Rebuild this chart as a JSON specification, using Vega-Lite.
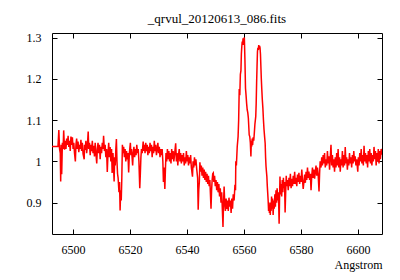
{
  "$schema": "https://vega.github.io/schema/vega-lite/v6.json",
  "autosize": {"type": "none"},
  "padding": {"left": 52, "top": 33, "right": 18, "bottom": 46},
  "width": 330,
  "height": 201,
  "background": "white",
  "title": {"text": "_qrvul_20120613_086.fits", "font": "Liberation Serif, Times New Roman, serif", "fontSize": 13, "fontWeight": "normal", "color": "black", "anchor": "middle", "offset": 6},
  "config": {
    "view": {"stroke": "black", "strokeWidth": 1},
    "axis": {"grid": false, "domain": false, "tickColor": "black", "tickSize": -5, "labelFont": "Liberation Serif, Times New Roman, serif", "labelFontSize": 12, "labelColor": "black", "titleFont": "Liberation Serif, Times New Roman, serif", "titleFontSize": 12, "titleFontWeight": "normal", "titleColor": "black"}
  },
  "data": {"values": [
{"x":6492.6,"y":1.036},{"x":6494.7,"y":1.036},{"x":6495.0,"y":1.076},{"x":6495.25,"y":1.03},{"x":6495.5,"y":1.02},{"x":6495.65,"y":0.951},{"x":6495.8,"y":1.04},{"x":6496.0,"y":0.969},{"x":6496.25,"y":1.045},{"x":6496.5,"y":1.03},{"x":6496.7,"y":1.075},{"x":6497.0,"y":1.028},{"x":6497.25,"y":1.05},{"x":6497.5,"y":1.03},{"x":6497.75,"y":1.055},{"x":6498.0,"y":1.04},{"x":6498.25,"y":1.062},{"x":6498.5,"y":1.035},{"x":6498.75,"y":1.05},{"x":6499.0,"y":1.025},{"x":6499.25,"y":1.06},{"x":6499.5,"y":1.04},{"x":6499.75,"y":1.058},{"x":6500.0,"y":1.03},{"x":6500.25,"y":1.045},{"x":6500.5,"y":1.02},{"x":6500.8,"y":1.0},{"x":6501.0,"y":1.04},{"x":6501.25,"y":1.055},{"x":6501.5,"y":1.03},{"x":6501.75,"y":1.048},{"x":6502.0,"y":1.022},{"x":6502.25,"y":1.04},{"x":6502.5,"y":1.03},{"x":6502.75,"y":1.052},{"x":6503.0,"y":1.025},{"x":6503.25,"y":1.045},{"x":6503.5,"y":1.018},{"x":6503.9,"y":1.005},{"x":6504.0,"y":1.04},{"x":6504.25,"y":1.028},{"x":6504.5,"y":1.05},{"x":6504.75,"y":1.02},{"x":6505.0,"y":1.035},{"x":6505.3,"y":1.072},{"x":6505.5,"y":1.03},{"x":6505.75,"y":1.045},{"x":6506.0,"y":1.015},{"x":6506.25,"y":1.04},{"x":6506.5,"y":1.025},{"x":6506.75,"y":1.05},{"x":6507.0,"y":1.02},{"x":6507.25,"y":1.038},{"x":6507.5,"y":1.012},{"x":6507.75,"y":1.045},{"x":6508.0,"y":1.02},{"x":6508.3,"y":0.995},{"x":6508.5,"y":1.03},{"x":6508.75,"y":1.045},{"x":6509.0,"y":1.02},{"x":6509.25,"y":1.04},{"x":6509.5,"y":1.005},{"x":6509.75,"y":1.035},{"x":6510.0,"y":1.02},{"x":6510.25,"y":1.045},{"x":6510.5,"y":1.03},{"x":6510.7,"y":1.062},{"x":6511.0,"y":1.025},{"x":6511.25,"y":1.04},{"x":6511.5,"y":1.01},{"x":6511.75,"y":1.03},{"x":6512.0,"y":0.974},{"x":6512.25,"y":1.02},{"x":6512.5,"y":1.045},{"x":6512.75,"y":1.01},{"x":6513.0,"y":1.035},{"x":6513.25,"y":1.0},{"x":6513.5,"y":1.03},{"x":6513.7,"y":0.972},{"x":6514.0,"y":1.02},{"x":6514.2,"y":0.985},{"x":6514.4,"y":0.951},{"x":6514.6,"y":1.01},{"x":6514.8,"y":0.99},{"x":6515.0,"y":1.03},{"x":6515.2,"y":1.054},{"x":6515.4,"y":1.0},{"x":6515.6,"y":0.97},{"x":6515.8,"y":0.96},{"x":6516.1,"y":0.925},{"x":6516.3,"y":0.95},{"x":6516.5,"y":0.881},{"x":6516.7,"y":0.93},{"x":6516.9,"y":0.905},{"x":6517.1,"y":0.96},{"x":6517.3,"y":1.04},{"x":6517.5,"y":1.02},{"x":6517.75,"y":1.035},{"x":6518.0,"y":1.01},{"x":6518.25,"y":1.03},{"x":6518.5,"y":1.0},{"x":6518.75,"y":1.025},{"x":6519.0,"y":1.005},{"x":6519.25,"y":1.02},{"x":6519.5,"y":0.973},{"x":6519.75,"y":1.02},{"x":6520.1,"y":1.045},{"x":6520.3,"y":1.015},{"x":6520.5,"y":1.03},{"x":6520.7,"y":1.01},{"x":6520.9,"y":0.99},{"x":6521.1,"y":1.02},{"x":6521.35,"y":1.035},{"x":6521.6,"y":1.01},{"x":6521.85,"y":1.03},{"x":6522.1,"y":1.015},{"x":6522.35,"y":1.04},{"x":6522.6,"y":1.02},{"x":6522.85,"y":1.03},{"x":6523.1,"y":1.0},{"x":6523.4,"y":0.935},{"x":6523.6,"y":0.97},{"x":6523.8,"y":1.01},{"x":6524.0,"y":1.03},{"x":6524.25,"y":1.02},{"x":6524.6,"y":1.048},{"x":6524.8,"y":1.025},{"x":6525.0,"y":1.04},{"x":6525.25,"y":1.02},{"x":6525.5,"y":1.045},{"x":6525.75,"y":1.025},{"x":6526.0,"y":1.04},{"x":6526.25,"y":1.015},{"x":6526.5,"y":1.035},{"x":6526.75,"y":1.02},{"x":6527.0,"y":1.045},{"x":6527.25,"y":1.025},{"x":6527.5,"y":1.04},{"x":6527.75,"y":1.01},{"x":6528.0,"y":1.035},{"x":6528.25,"y":1.02},{"x":6528.5,"y":1.05},{"x":6528.75,"y":1.025},{"x":6529.0,"y":1.04},{"x":6529.25,"y":1.015},{"x":6529.5,"y":1.03},{"x":6529.75,"y":1.045},{"x":6530.0,"y":1.02},{"x":6530.25,"y":1.035},{"x":6530.5,"y":1.01},{"x":6530.75,"y":1.03},{"x":6531.0,"y":1.015},{"x":6531.25,"y":1.03},{"x":6531.5,"y":1.0},{"x":6531.7,"y":0.95},{"x":6531.9,"y":0.985},{"x":6532.2,"y":0.933},{"x":6532.4,"y":0.98},{"x":6532.6,"y":1.02},{"x":6532.85,"y":1.0},{"x":6533.1,"y":1.03},{"x":6533.35,"y":1.005},{"x":6533.6,"y":1.025},{"x":6533.85,"y":1.0},{"x":6534.1,"y":1.02},{"x":6534.35,"y":0.995},{"x":6534.6,"y":1.03},{"x":6534.85,"y":1.005},{"x":6535.1,"y":1.025},{"x":6535.35,"y":1.0},{"x":6535.6,"y":1.015},{"x":6536.0,"y":1.044},{"x":6536.25,"y":1.0},{"x":6536.5,"y":1.02},{"x":6536.75,"y":0.99},{"x":6537.0,"y":1.015},{"x":6537.25,"y":1.03},{"x":6537.5,"y":1.0},{"x":6537.75,"y":1.02},{"x":6538.0,"y":0.995},{"x":6538.25,"y":1.015},{"x":6538.5,"y":1.0},{"x":6538.75,"y":1.02},{"x":6539.0,"y":0.99},{"x":6539.25,"y":1.01},{"x":6539.5,"y":0.995},{"x":6539.75,"y":1.025},{"x":6540.0,"y":1.0},{"x":6540.25,"y":1.015},{"x":6540.5,"y":0.99},{"x":6540.75,"y":1.01},{"x":6541.0,"y":0.995},{"x":6541.25,"y":1.015},{"x":6541.5,"y":0.985},{"x":6541.9,"y":0.963},{"x":6542.1,"y":1.0},{"x":6542.35,"y":0.985},{"x":6542.6,"y":1.01},{"x":6542.85,"y":0.99},{"x":6543.1,"y":1.005},{"x":6543.4,"y":0.98},{"x":6543.7,"y":0.96},{"x":6543.9,"y":0.883},{"x":6544.1,"y":0.93},{"x":6544.3,"y":0.95},{"x":6544.5,"y":0.998},{"x":6544.75,"y":0.975},{"x":6545.0,"y":0.99},{"x":6545.25,"y":0.965},{"x":6545.5,"y":0.985},{"x":6545.75,"y":0.96},{"x":6546.0,"y":0.98},{"x":6546.25,"y":0.955},{"x":6546.5,"y":0.975},{"x":6546.75,"y":0.95},{"x":6547.0,"y":0.97},{"x":6547.25,"y":0.945},{"x":6547.5,"y":0.965},{"x":6547.75,"y":0.94},{"x":6548.0,"y":0.955},{"x":6548.2,"y":0.92},{"x":6548.4,"y":0.885},{"x":6548.6,"y":0.93},{"x":6548.8,"y":0.955},{"x":6549.0,"y":0.97},{"x":6549.2,"y":0.972},{"x":6549.4,"y":0.95},{"x":6549.65,"y":0.965},{"x":6549.9,"y":0.94},{"x":6550.15,"y":0.955},{"x":6550.4,"y":0.93},{"x":6550.65,"y":0.95},{"x":6550.9,"y":0.925},{"x":6551.15,"y":0.945},{"x":6551.4,"y":0.915},{"x":6551.65,"y":0.935},{"x":6551.9,"y":0.9},{"x":6552.15,"y":0.925},{"x":6552.4,"y":0.88},{"x":6552.6,"y":0.841},{"x":6552.8,"y":0.9},{"x":6553.0,"y":0.939},{"x":6553.2,"y":0.9},{"x":6553.45,"y":0.88},{"x":6553.7,"y":0.91},{"x":6553.95,"y":0.885},{"x":6554.2,"y":0.905},{"x":6554.45,"y":0.88},{"x":6554.7,"y":0.912},{"x":6554.95,"y":0.89},{"x":6555.2,"y":0.905},{"x":6555.45,"y":0.875},{"x":6555.7,"y":0.91},{"x":6555.95,"y":0.885},{"x":6556.2,"y":0.92},{"x":6556.5,"y":0.905},{"x":6556.8,"y":0.943},{"x":6557.0,"y":0.93},{"x":6557.1,"y":1.0},{"x":6557.3,"y":0.99},{"x":6557.6,"y":1.036},{"x":6557.9,"y":1.06},{"x":6558.1,"y":1.1},{"x":6558.3,"y":1.175},{"x":6558.5,"y":1.16},{"x":6558.7,"y":1.211},{"x":6558.9,"y":1.22},{"x":6559.05,"y":1.26},{"x":6559.2,"y":1.278},{"x":6559.35,"y":1.29},{"x":6559.5,"y":1.285},{"x":6559.65,"y":1.298},{"x":6559.8,"y":1.282},{"x":6559.95,"y":1.296},{"x":6560.1,"y":1.3},{"x":6560.3,"y":1.246},{"x":6560.5,"y":1.177},{"x":6560.7,"y":1.16},{"x":6560.9,"y":1.14},{"x":6561.1,"y":1.125},{"x":6561.3,"y":1.118},{"x":6561.5,"y":1.105},{"x":6561.8,"y":1.064},{"x":6562.0,"y":1.06},{"x":6562.2,"y":1.045},{"x":6562.4,"y":1.012},{"x":6562.55,"y":1.05},{"x":6562.7,"y":1.036},{"x":6562.85,"y":1.055},{"x":6563.0,"y":1.04},{"x":6563.2,"y":1.058},{"x":6563.4,"y":1.05},{"x":6563.6,"y":1.069},{"x":6563.8,"y":1.09},{"x":6564.1,"y":1.109},{"x":6564.25,"y":1.14},{"x":6564.4,"y":1.19},{"x":6564.55,"y":1.23},{"x":6564.7,"y":1.266},{"x":6564.85,"y":1.275},{"x":6565.0,"y":1.27},{"x":6565.15,"y":1.282},{"x":6565.3,"y":1.272},{"x":6565.45,"y":1.28},{"x":6565.6,"y":1.275},{"x":6565.75,"y":1.26},{"x":6565.9,"y":1.23},{"x":6566.05,"y":1.2},{"x":6566.2,"y":1.177},{"x":6566.4,"y":1.15},{"x":6566.6,"y":1.129},{"x":6566.8,"y":1.1},{"x":6567.0,"y":1.077},{"x":6567.2,"y":1.06},{"x":6567.4,"y":1.044},{"x":6567.55,"y":1.01},{"x":6567.7,"y":0.988},{"x":6567.85,"y":0.975},{"x":6568.0,"y":0.963},{"x":6568.15,"y":0.94},{"x":6568.3,"y":0.923},{"x":6568.45,"y":0.905},{"x":6568.6,"y":0.88},{"x":6568.75,"y":0.9},{"x":6568.9,"y":0.875},{"x":6569.05,"y":0.895},{"x":6569.2,"y":0.87},{"x":6569.35,"y":0.9},{"x":6569.5,"y":0.88},{"x":6569.65,"y":0.915},{"x":6569.8,"y":0.885},{"x":6570.0,"y":0.91},{"x":6570.2,"y":0.87},{"x":6570.4,"y":0.905},{"x":6570.6,"y":0.885},{"x":6570.8,"y":0.92},{"x":6571.0,"y":0.89},{"x":6571.2,"y":0.93},{"x":6571.4,"y":0.9},{"x":6571.6,"y":0.935},{"x":6571.8,"y":0.905},{"x":6572.0,"y":0.925},{"x":6572.15,"y":0.895},{"x":6572.3,"y":0.849},{"x":6572.45,"y":0.91},{"x":6572.6,"y":0.963},{"x":6572.8,"y":0.92},{"x":6573.0,"y":0.945},{"x":6573.2,"y":0.915},{"x":6573.4,"y":0.955},{"x":6573.6,"y":0.925},{"x":6573.8,"y":0.96},{"x":6574.0,"y":0.935},{"x":6574.2,"y":0.95},{"x":6574.4,"y":0.876},{"x":6574.6,"y":0.925},{"x":6574.8,"y":0.965},{"x":6575.0,"y":0.94},{"x":6575.25,"y":0.955},{"x":6575.5,"y":0.93},{"x":6575.75,"y":0.96},{"x":6576.0,"y":0.94},{"x":6576.25,"y":0.97},{"x":6576.5,"y":0.935},{"x":6576.75,"y":0.958},{"x":6577.0,"y":0.94},{"x":6577.25,"y":0.965},{"x":6577.5,"y":0.945},{"x":6577.75,"y":0.975},{"x":6578.0,"y":0.945},{"x":6578.25,"y":0.96},{"x":6578.5,"y":0.94},{"x":6578.75,"y":0.968},{"x":6579.0,"y":0.95},{"x":6579.25,"y":0.972},{"x":6579.5,"y":0.945},{"x":6579.75,"y":0.965},{"x":6580.0,"y":0.95},{"x":6580.25,"y":0.98},{"x":6580.5,"y":0.955},{"x":6580.75,"y":0.933},{"x":6581.0,"y":0.95},{"x":6581.25,"y":0.968},{"x":6581.5,"y":0.948},{"x":6581.75,"y":0.975},{"x":6582.0,"y":0.955},{"x":6582.25,"y":0.985},{"x":6582.5,"y":0.96},{"x":6582.75,"y":0.975},{"x":6583.0,"y":0.955},{"x":6583.25,"y":0.97},{"x":6583.5,"y":0.93},{"x":6583.75,"y":0.965},{"x":6584.0,"y":0.985},{"x":6584.25,"y":0.96},{"x":6584.5,"y":0.98},{"x":6584.75,"y":0.958},{"x":6585.0,"y":0.975},{"x":6585.25,"y":0.99},{"x":6585.5,"y":0.965},{"x":6585.75,"y":0.985},{"x":6586.0,"y":0.968},{"x":6586.3,"y":0.927},{"x":6586.5,"y":0.97},{"x":6586.7,"y":1.0},{"x":6587.0,"y":0.985},{"x":6587.25,"y":1.01},{"x":6587.5,"y":0.99},{"x":6587.75,"y":1.015},{"x":6588.0,"y":0.995},{"x":6588.25,"y":1.02},{"x":6588.5,"y":0.985},{"x":6588.75,"y":1.005},{"x":6589.0,"y":0.99},{"x":6589.25,"y":1.025},{"x":6589.5,"y":0.995},{"x":6589.75,"y":1.012},{"x":6590.0,"y":0.98},{"x":6590.25,"y":1.01},{"x":6590.5,"y":1.04},{"x":6590.75,"y":0.99},{"x":6591.0,"y":1.015},{"x":6591.25,"y":0.985},{"x":6591.5,"y":1.005},{"x":6591.75,"y":0.975},{"x":6592.0,"y":1.01},{"x":6592.25,"y":0.985},{"x":6592.5,"y":1.02},{"x":6592.75,"y":0.99},{"x":6593.0,"y":1.03},{"x":6593.25,"y":0.985},{"x":6593.5,"y":1.01},{"x":6593.75,"y":0.975},{"x":6594.0,"y":1.005},{"x":6594.25,"y":0.99},{"x":6594.5,"y":1.025},{"x":6594.75,"y":0.985},{"x":6595.0,"y":1.015},{"x":6595.25,"y":0.99},{"x":6595.5,"y":1.035},{"x":6595.75,"y":0.995},{"x":6596.0,"y":1.01},{"x":6596.25,"y":0.98},{"x":6596.5,"y":1.005},{"x":6596.75,"y":0.99},{"x":6597.0,"y":1.02},{"x":6597.25,"y":0.995},{"x":6597.5,"y":1.01},{"x":6597.75,"y":0.985},{"x":6598.0,"y":1.015},{"x":6598.25,"y":0.995},{"x":6598.5,"y":1.025},{"x":6598.75,"y":1.0},{"x":6599.0,"y":1.012},{"x":6599.25,"y":0.99},{"x":6599.5,"y":1.005},{"x":6599.9,"y":0.975},{"x":6600.1,"y":1.01},{"x":6600.35,"y":0.99},{"x":6600.6,"y":1.02},{"x":6600.85,"y":1.0},{"x":6601.1,"y":1.03},{"x":6601.35,"y":0.995},{"x":6601.6,"y":1.015},{"x":6601.85,"y":0.99},{"x":6602.1,"y":1.038},{"x":6602.35,"y":1.0},{"x":6602.6,"y":1.02},{"x":6602.85,"y":0.995},{"x":6603.1,"y":1.015},{"x":6603.35,"y":0.985},{"x":6603.6,"y":1.025},{"x":6603.85,"y":1.0},{"x":6604.1,"y":1.03},{"x":6604.35,"y":0.995},{"x":6604.6,"y":1.02},{"x":6604.85,"y":0.99},{"x":6605.1,"y":1.015},{"x":6605.35,"y":1.0},{"x":6605.6,"y":1.035},{"x":6605.85,"y":1.005},{"x":6606.1,"y":1.025},{"x":6606.35,"y":0.99},{"x":6606.6,"y":1.02},{"x":6606.85,"y":1.0},{"x":6607.1,"y":1.03},{"x":6607.35,"y":0.995},{"x":6607.6,"y":1.025},{"x":6607.85,"y":1.005},{"x":6608.1,"y":1.03},{"x":6608.4,"y":1.016}
  ]},
  "layer": [
    {
      "mark": {"type": "line", "color": "#ff0000", "strokeWidth": 1.5, "clip": true},
      "encoding": {
        "x": {"field": "x", "type": "quantitative", "scale": {"domain": [6492.6, 6608.4], "nice": false, "zero": false},
              "axis": {"orient": "bottom", "title": "Angstrom", "values": [6500, 6520, 6540, 6560, 6580, 6600], "format": "d", "labelPadding": 15, "titleAnchor": "end", "titleAlign": "right", "titlePadding": 4, "titleFontWeight": "normal", "labelFlush": false}},
        "y": {"field": "y", "type": "quantitative", "scale": {"domain": [0.824, 1.311], "nice": false, "zero": false},
              "axis": {"orient": "left", "title": null, "values": [0.9, 1, 1.1, 1.2, 1.3], "format": "~g", "labelPadding": 16}}
      }
    },
    {
      "mark": {"type": "point", "opacity": 0},
      "encoding": {
        "x": {"field": "x", "type": "quantitative", "axis": {"orient": "top", "title": null, "labels": false, "values": [6500, 6520, 6540, 6560, 6580, 6600]}},
        "y": {"field": "y", "type": "quantitative", "axis": {"orient": "right", "title": null, "labels": false, "values": [0.9, 1, 1.1, 1.2, 1.3]}}
      }
    }
  ],
  "resolve": {"axis": {"x": "independent", "y": "independent"}}
}
